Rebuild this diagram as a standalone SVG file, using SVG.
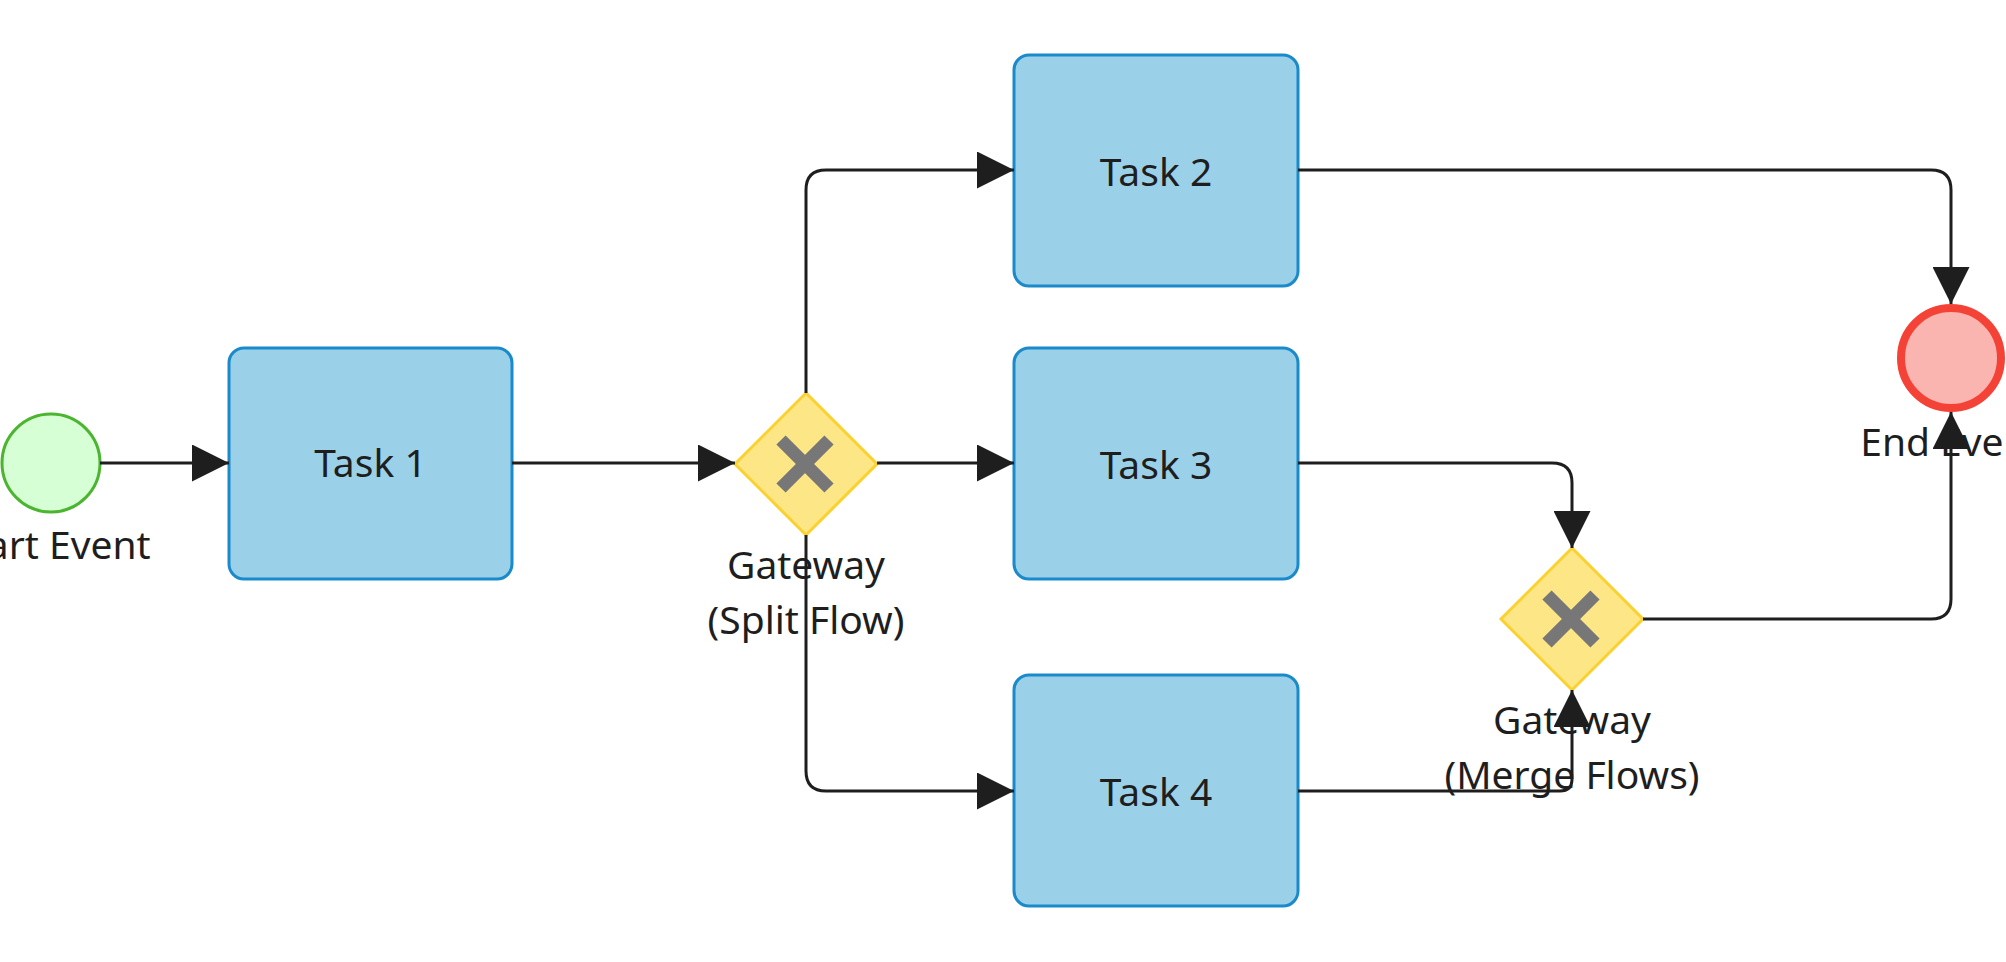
<svg xmlns="http://www.w3.org/2000/svg" width="2006" height="962" viewBox="0 0 2006 962">
<defs>
<style>
.task{fill:#9bd1e8;stroke:#1a8acb;stroke-width:3}
.gw{fill:#fde685;stroke:#fbd130;stroke-width:3}
.x{stroke:#777777;stroke-width:13;stroke-linecap:butt}
.lbl{font-family:"Noto Sans","Open Sans",sans-serif;font-size:39px;fill:#1e1e1e;text-anchor:middle}
.edge{fill:none;stroke:#1e1e1e;stroke-width:3;marker-end:url(#arr)}
</style>
<marker id="arr" viewBox="0 0 10 10" refX="10" refY="5" markerWidth="37" markerHeight="37" markerUnits="userSpaceOnUse" orient="auto">
<path d="M0,0 L10,5 L0,10 z" fill="#1e1e1e"/>
</marker>
</defs>
<rect width="2006" height="962" fill="#ffffff"/>
<g id="start">
<circle cx="51" cy="463" r="49" fill="#d6ffd6" stroke="#4cb530" stroke-width="3"/>
<text class="lbl" x="51" y="559">Start Event</text>
</g>
<g id="task1">
<rect class="task" x="229" y="348" width="283" height="231" rx="15"/>
<text class="lbl" x="370.5" y="477">Task 1</text>
</g>
<g id="split">
<polygon class="gw" points="806,393 877,464 806,535 735,464"/>
<line class="x" x1="781" y1="440" x2="829" y2="488"/>
<line class="x" x1="829" y1="440" x2="781" y2="488"/>
<text class="lbl" x="806" y="579">Gateway</text>
<text class="lbl" x="806" y="634">(Split Flow)</text>
</g>
<g id="task2">
<rect class="task" x="1014" y="55" width="284" height="231" rx="15"/>
<text class="lbl" x="1156" y="186">Task 2</text>
</g>
<g id="task3">
<rect class="task" x="1014" y="348" width="284" height="231" rx="15"/>
<text class="lbl" x="1156" y="479">Task 3</text>
</g>
<g id="task4">
<rect class="task" x="1014" y="675" width="284" height="231" rx="15"/>
<text class="lbl" x="1156" y="806">Task 4</text>
</g>
<g id="merge">
<polygon class="gw" points="1572,548 1643,619 1572,690 1501,619"/>
<line class="x" x1="1547" y1="595" x2="1595" y2="643"/>
<line class="x" x1="1595" y1="595" x2="1547" y2="643"/>
<text class="lbl" x="1572" y="734">Gateway</text>
<text class="lbl" x="1572" y="789">(Merge Flows)</text>
</g>
<g id="end">
<circle cx="1951" cy="358" r="50" fill="#fbb5b1" stroke="#f44336" stroke-width="8"/>
<text class="lbl" x="1951" y="456">End Event</text>
</g>
<g id="connectors">
<path class="edge" d="M100,463 L229,463"/>
<path class="edge" d="M512,463 L735,463"/>
<path class="edge" d="M806,393 L806,190 Q806,170 826,170 L1014,170"/>
<path class="edge" d="M877,463 L1014,463"/>
<path class="edge" d="M806,535 L806,771 Q806,791 826,791 L1014,791"/>
<path class="edge" d="M1298,170 L1931,170 Q1951,170 1951,190 L1951,304"/>
<path class="edge" d="M1298,463 L1552,463 Q1572,463 1572,483 L1572,548"/>
<path class="edge" d="M1298,791 L1560,791 Q1572,791 1572,779 L1572,690"/>
<path class="edge" d="M1643,619 L1931,619 Q1951,619 1951,599 L1951,412"/>
</g>
</svg>
